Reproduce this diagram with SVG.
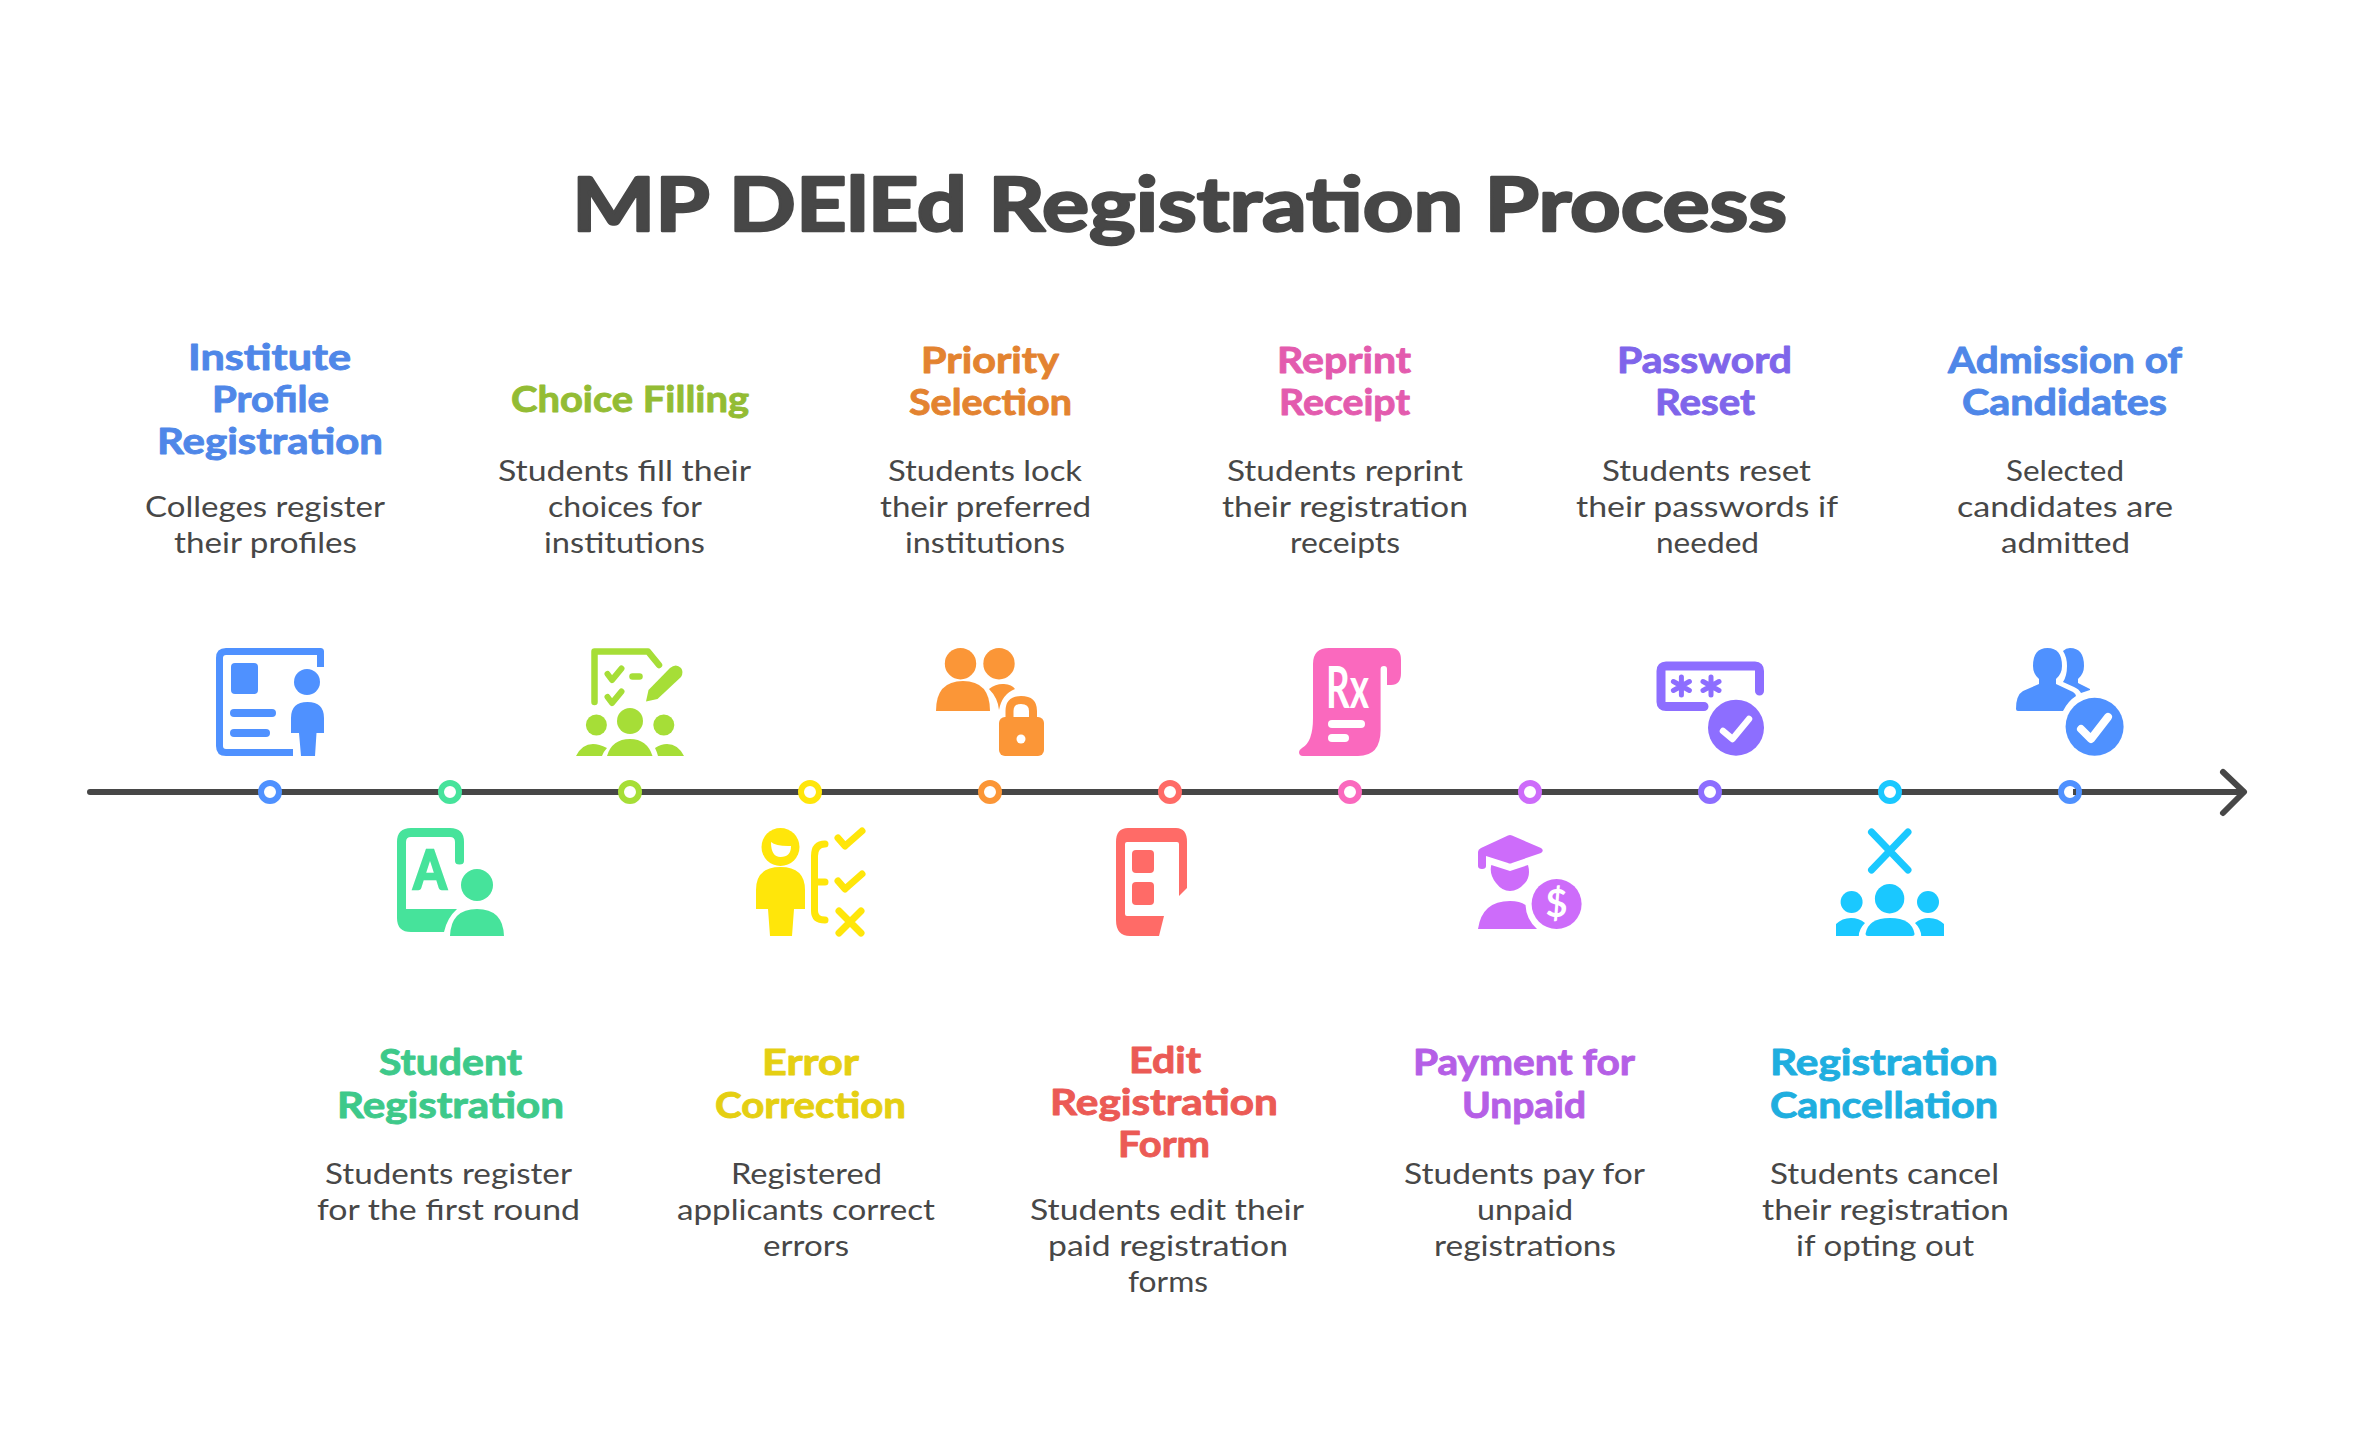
<svg xmlns="http://www.w3.org/2000/svg" width="2358" height="1440" viewBox="0 0 2358 1440">
<style>
text{font-family:"Lato","Noto Sans",sans-serif}
.t{font-size:75px;font-weight:700;fill:#474747;stroke:#474747;stroke-width:2.5;stroke-linejoin:round}
.h{font-size:36px;font-weight:700;stroke-width:.9;stroke-linejoin:round}
.d{font-size:29px;font-weight:400;fill:#474747}
.s{fill:none;stroke-linecap:round;stroke-linejoin:round}
.w{fill:#fff}
.wl{fill:none;stroke:#fff;stroke-linecap:round;stroke-linejoin:round}
.dot{fill:#fff;stroke-width:6}
.tl{fill:none;stroke:#474747;stroke-width:6;stroke-linecap:round;stroke-linejoin:round}
</style>
<defs>
<g id="ast" stroke-width="5" stroke-linecap="round"><path d="M0-9V9M-8-4.500L8 4.500M-8 4.500L8-4.500" fill="none"/></g>
</defs>
<rect width="2358" height="1440" fill="#fff"/>
<text class="t" x="572" y="231" textLength="1215" lengthAdjust="spacingAndGlyphs">MP DElEd Registration Process</text>
<g id="connectors">
<path class="tl" d="M90 792H2243"/>
<path class="tl" d="M2223 772L2244 792L2223 813"/>
</g>
<g id="node-1">
<g transform="translate(216 648)" fill="#4F91FF" stroke="none">
<path class="s" stroke="#4F91FF" stroke-width="7" d="M104.500 19V3.500H10Q3.500 3.500 3.500 10V98Q3.500 104.500 10 104.500H77" style="stroke-linecap:butt"/>
<rect x="15" y="15" width="27" height="31" rx="4"/>
<rect x="14" y="61" width="46" height="8" rx="4"/>
<rect x="14" y="81" width="40" height="8" rx="4"/>
<circle cx="91" cy="34" r="13"/>
<path d="M75 85V70Q75 54 91.500 54Q108 54 108 70V85H100.500L99 108H85L83 85Z"/>
</g>
<circle class="dot" cx="270" cy="792" r="9" stroke="#4F91FF"/>
<g fill="#4F87E8" stroke="#4F87E8">
<text class="h" x="188" y="370" textLength="163" lengthAdjust="spacingAndGlyphs">Institute</text>
<text class="h" x="212" y="412" textLength="117" lengthAdjust="spacingAndGlyphs">Profile</text>
<text class="h" x="157" y="454" textLength="226" lengthAdjust="spacingAndGlyphs">Registration</text>
</g>
<text class="d" x="145" y="517" textLength="240" lengthAdjust="spacingAndGlyphs">Colleges register</text>
<text class="d" x="174" y="553" textLength="183" lengthAdjust="spacingAndGlyphs">their profiles</text>
</g>
<g id="node-2">
<g transform="translate(397 828)" fill="#46E39B">
<path d="M0 14Q0 0 14 0H53Q67 0 67 14V33Q67 36.500 62.500 36.500Q58 36.500 58 33V14Q58 9 53 9H14Q9 9 9 14V81H60Q50 90 47 104H14Q0 104 0 90Z"/>
<text x="16.500" y="61" font-size="54" font-weight="700" stroke="#46E39B" stroke-width="2.500" textLength="33" lengthAdjust="spacingAndGlyphs">A</text>
<circle cx="80" cy="57" r="16"/>
<path d="M53 108Q54 81 80 81Q106 81 107 108Z"/>
</g>
<circle class="dot" cx="450" cy="792" r="9" stroke="#46E39B"/>
<g fill="#3EC98A" stroke="#3EC98A">
<text class="h" x="379" y="1075" textLength="143" lengthAdjust="spacingAndGlyphs">Student</text>
<text class="h" x="337" y="1118" textLength="227" lengthAdjust="spacingAndGlyphs">Registration</text>
</g>
<text class="d" x="325" y="1184" textLength="247" lengthAdjust="spacingAndGlyphs">Students register</text>
<text class="d" x="317" y="1220" textLength="263" lengthAdjust="spacingAndGlyphs">for the first round</text>
</g>
<g id="node-3">
<g transform="translate(576 648)" fill="#A6DE37" stroke="#A6DE37">
<path class="s" stroke-width="6.500" d="M18.500 54V3.500H72L83 17"/>
<path class="s" stroke-width="6" d="M31.500 26L36 32L45.500 20.500M31.500 49L36 55L45.500 43.500"/>
<path class="s" stroke-width="6.500" d="M56.500 28.600H63.500"/>
<g stroke="none">
<path d="M70 53.500L72.500 42L94 20Q100 15 105 20Q108 24 105 29L81.500 51Z"/>
<circle cx="54" cy="73" r="13"/>
<circle cx="20.400" cy="77" r="10.500"/>
<circle cx="87.800" cy="77" r="10.500"/>
<path d="M31 108Q36 91 54 91Q71 91 76.500 108Z"/>
<path d="M0 108Q6 96 17 96Q23 96 31 100Q28 103 26 108Z"/>
<path d="M108 108Q102 96 91 96Q85 96 79 100Q81 104 82 108Z"/>
</g>
</g>
<circle class="dot" cx="630" cy="792" r="9" stroke="#A6DE37"/>
<g fill="#93BC34" stroke="#93BC34">
<text class="h" x="511" y="412" textLength="238" lengthAdjust="spacingAndGlyphs">Choice Filling</text>
</g>
<text class="d" x="498" y="481" textLength="253" lengthAdjust="spacingAndGlyphs">Students fill their</text>
<text class="d" x="548" y="517" textLength="154" lengthAdjust="spacingAndGlyphs">choices for</text>
<text class="d" x="544" y="553" textLength="161" lengthAdjust="spacingAndGlyphs">institutions</text>
</g>
<g id="node-4">
<g transform="translate(756 828)" fill="#FFE60A" stroke="#FFE60A">
<g stroke="none">
<circle cx="24.500" cy="19" r="19"/>
<path class="w" d="M15 14Q20 18.500 35 18Q35 29 24.500 29Q15 29 15 14Z"/>
<path d="M0 81V62Q0 39 24.500 39Q49 39 49 62V81H38L36 108H14L12 81Z"/>
</g>
<path class="s" stroke-width="7" d="M69 16Q58.500 16 58.500 28V83Q58.500 92 69 92M58.500 54H69"/>
<path class="s" stroke-width="7" d="M82 10L89 18L106 3M82 53L89 61L106 46M83 83L105 105M105 83L83 105"/>
</g>
<circle class="dot" cx="810" cy="792" r="9" stroke="#FFE60A"/>
<g fill="#E5CF12" stroke="#E5CF12">
<text class="h" x="762" y="1075" textLength="97" lengthAdjust="spacingAndGlyphs">Error</text>
<text class="h" x="715" y="1118" textLength="191" lengthAdjust="spacingAndGlyphs">Correction</text>
</g>
<text class="d" x="731" y="1184" textLength="151" lengthAdjust="spacingAndGlyphs">Registered</text>
<text class="d" x="677" y="1220" textLength="258" lengthAdjust="spacingAndGlyphs">applicants correct</text>
<text class="d" x="763" y="1256" textLength="86" lengthAdjust="spacingAndGlyphs">errors</text>
</g>
<g id="node-5">
<g transform="translate(936 648)" fill="#FB9637">
<circle cx="24.500" cy="15.700" r="15.700"/>
<circle cx="63" cy="15.700" r="15.700"/>
<path d="M0 63Q0 33 27 33Q54 33 54 63Z"/>
<path d="M53 41Q60 35.500 68 36Q76 36.500 79 41Q66 46 63 62Q62 50 53 41Z"/>
<rect x="63" y="69" width="45" height="39" rx="6"/>
<path class="s" stroke="#FB9637" stroke-width="8" style="stroke-linecap:butt" d="M73.500 70V63Q73.500 52 85 52Q97 52 97 63V70"/>
<circle class="w" cx="85" cy="91" r="4.500"/>
</g>
<circle class="dot" cx="990" cy="792" r="9" stroke="#FB9637"/>
<g fill="#E38330" stroke="#E38330">
<text class="h" x="921" y="373" textLength="138" lengthAdjust="spacingAndGlyphs">Priority</text>
<text class="h" x="909" y="415" textLength="163" lengthAdjust="spacingAndGlyphs">Selection</text>
</g>
<text class="d" x="888" y="481" textLength="194" lengthAdjust="spacingAndGlyphs">Students lock</text>
<text class="d" x="880" y="517" textLength="211" lengthAdjust="spacingAndGlyphs">their preferred</text>
<text class="d" x="905" y="553" textLength="160" lengthAdjust="spacingAndGlyphs">institutions</text>
</g>
<g id="node-6">
<g transform="translate(1116 828)" fill="#FF6B67">
<path d="M0 14Q0 0 12 0H60Q71 0 71 14V60L63 68V16Q63 14 61 14H11Q9 14 9 16V86Q9 88 11 88H48L43 108H14Q0 108 0 92Z"/>
<rect x="16" y="22" width="22" height="23" rx="4"/>
<rect x="16" y="54" width="22" height="23" rx="4"/>
</g>
<circle class="dot" cx="1170" cy="792" r="9" stroke="#FF6B67"/>
<g fill="#EB5A55" stroke="#EB5A55">
<text class="h" x="1129" y="1073" textLength="72" lengthAdjust="spacingAndGlyphs">Edit</text>
<text class="h" x="1050" y="1115" textLength="228" lengthAdjust="spacingAndGlyphs">Registration</text>
<text class="h" x="1118" y="1157" textLength="92" lengthAdjust="spacingAndGlyphs">Form</text>
</g>
<text class="d" x="1030" y="1220" textLength="274" lengthAdjust="spacingAndGlyphs">Students edit their</text>
<text class="d" x="1048" y="1256" textLength="240" lengthAdjust="spacingAndGlyphs">paid registration</text>
<text class="d" x="1128" y="1292" textLength="80" lengthAdjust="spacingAndGlyphs">forms</text>
</g>
<g id="node-7">
<g transform="translate(1299 648)" fill="#FA69BE">
<path d="M14 16Q14 0 30 0H92Q102 0 102 12V25Q102 37 92 37H88V21Q88 18 85 18Q81.600 18 81.600 21V82Q81.600 108 59 108H4Q0 108 0 104Q0 102 3 100Q14 94 14 70Z"/>
<text class="w" x="27" y="60" font-size="58" font-weight="700" textLength="43" lengthAdjust="spacingAndGlyphs">Rx</text>
<rect class="w" x="29" y="72" width="37" height="8" rx="4"/>
<rect class="w" x="29" y="86" width="21" height="8" rx="4"/>
</g>
<circle class="dot" cx="1350" cy="792" r="9" stroke="#FA69BE"/>
<g fill="#E35BAE" stroke="#E35BAE">
<text class="h" x="1277" y="373" textLength="134" lengthAdjust="spacingAndGlyphs">Reprint</text>
<text class="h" x="1279" y="415" textLength="131" lengthAdjust="spacingAndGlyphs">Receipt</text>
</g>
<text class="d" x="1227" y="481" textLength="236" lengthAdjust="spacingAndGlyphs">Students reprint</text>
<text class="d" x="1222" y="517" textLength="246" lengthAdjust="spacingAndGlyphs">their registration</text>
<text class="d" x="1290" y="553" textLength="110" lengthAdjust="spacingAndGlyphs">receipts</text>
</g>
<g id="node-8">
<g transform="translate(1478 828)" fill="#CD6CFA">
<path d="M30 7.500Q32 6.500 34 7.500L63 20Q66.500 22.500 63 25L34 35Q32 36 30 35L8 28V38Q8 41 4 41Q0 41 0 38V24Q0 21.500 3 20Z"/>
<path d="M13.300 37L32 43L50 37Q53 48 47 55Q40 63 32 63Q24 63 18 55Q11 46 13.300 37Z"/>
<path d="M0 101Q4 73 32 73Q42 73 47.500 77Q48 91 59 101Z"/>
<circle cx="78.600" cy="76" r="25"/>
<text class="w" x="78.600" y="89" font-size="38" font-weight="700" text-anchor="middle">$</text>
</g>
<circle class="dot" cx="1530" cy="792" r="9" stroke="#CD6CFA"/>
<g fill="#B55FE6" stroke="#B55FE6">
<text class="h" x="1413" y="1075" textLength="222" lengthAdjust="spacingAndGlyphs">Payment for</text>
<text class="h" x="1462" y="1118" textLength="124" lengthAdjust="spacingAndGlyphs">Unpaid</text>
</g>
<text class="d" x="1404" y="1184" textLength="241" lengthAdjust="spacingAndGlyphs">Students pay for</text>
<text class="d" x="1477" y="1220" textLength="96" lengthAdjust="spacingAndGlyphs">unpaid</text>
<text class="d" x="1434" y="1256" textLength="182" lengthAdjust="spacingAndGlyphs">registrations</text>
</g>
<g id="node-9">
<g transform="translate(1656 648)" fill="#8D6EFF" stroke="#8D6EFF">
<path class="s" stroke-width="9" d="M103.500 43V23Q103.500 18 99 18H10Q5 18 5 23V54Q5 58.500 10 58.500H48"/>
<use href="#ast" x="25.400" y="38"/>
<use href="#ast" x="55" y="38"/>
<circle cx="80" cy="79.700" r="28" stroke="none"/>
<path class="wl" stroke-width="6.500" d="M67 83L76.500 91L93 71"/>
</g>
<circle class="dot" cx="1710" cy="792" r="9" stroke="#8D6EFF"/>
<g fill="#7F65EA" stroke="#7F65EA">
<text class="h" x="1617" y="373" textLength="175" lengthAdjust="spacingAndGlyphs">Password</text>
<text class="h" x="1655" y="415" textLength="100" lengthAdjust="spacingAndGlyphs">Reset</text>
</g>
<text class="d" x="1602" y="481" textLength="209" lengthAdjust="spacingAndGlyphs">Students reset</text>
<text class="d" x="1576" y="517" textLength="262" lengthAdjust="spacingAndGlyphs">their passwords if</text>
<text class="d" x="1656" y="553" textLength="103" lengthAdjust="spacingAndGlyphs">needed</text>
</g>
<g id="node-10">
<g transform="translate(1836 828)" fill="#1AC8FF">
<path class="s" stroke="#1AC8FF" stroke-width="7" d="M35.500 4L72 42M72 4L35.500 42"/>
<circle cx="53.600" cy="70.700" r="14.700"/>
<circle cx="15.600" cy="74" r="11"/>
<circle cx="92" cy="74" r="11"/>
<path d="M0 108V96Q6 90 15 90Q23 90 29 95Q23 101 22.800 108Z"/>
<path d="M108 108V96Q102 90 93 90Q85 90 79 95Q85 101 85.200 108Z"/>
<path d="M29.500 106Q32 90 54 90Q76 90 78.600 106Q78.600 108 76 108H32Q29.500 108 29.500 106Z"/>
</g>
<circle class="dot" cx="1890" cy="792" r="9" stroke="#1AC8FF"/>
<g fill="#1FAEDF" stroke="#1FAEDF">
<text class="h" x="1770" y="1075" textLength="228" lengthAdjust="spacingAndGlyphs">Registration</text>
<text class="h" x="1770" y="1118" textLength="228" lengthAdjust="spacingAndGlyphs">Cancellation</text>
</g>
<text class="d" x="1770" y="1184" textLength="229" lengthAdjust="spacingAndGlyphs">Students cancel</text>
<text class="d" x="1762" y="1220" textLength="247" lengthAdjust="spacingAndGlyphs">their registration</text>
<text class="d" x="1796" y="1256" textLength="178" lengthAdjust="spacingAndGlyphs">if opting out</text>
</g>
<g id="node-11">
<g transform="translate(2016 648)" fill="#4F91FF">
<path d="M0 61Q0 47 7 43L23 36V31Q17 26 17 18Q17 0 31.500 0Q46 0 46 18Q46 26 40 31V36L57 44Q60 46 60 48Q52 53 47 63H2Q0 63 0 61Z"/>
<path d="M47 3Q50 0 54 0Q68 0 68 18Q68 26 62 31V35L74 41V42L65 45Q63 41 58 39L47 34Q51 28 51 18Q51 9 47 3Z"/>
<circle cx="78.600" cy="78.700" r="29"/>
<path class="wl" stroke-width="8" d="M65 81L75 91L92 69"/>
</g>
<circle class="dot" cx="2070" cy="792" r="9" stroke="#4F91FF"/>
<rect x="2073" y="789" width="3" height="6" fill="#474747"/>
<g fill="#4F87E8" stroke="#4F87E8">
<text class="h" x="1948" y="373" textLength="234" lengthAdjust="spacingAndGlyphs">Admission of</text>
<text class="h" x="1962" y="415" textLength="205" lengthAdjust="spacingAndGlyphs">Candidates</text>
</g>
<text class="d" x="2006" y="481" textLength="118" lengthAdjust="spacingAndGlyphs">Selected</text>
<text class="d" x="1957" y="517" textLength="216" lengthAdjust="spacingAndGlyphs">candidates are</text>
<text class="d" x="2001" y="553" textLength="129" lengthAdjust="spacingAndGlyphs">admitted</text>
</g>
</svg>
